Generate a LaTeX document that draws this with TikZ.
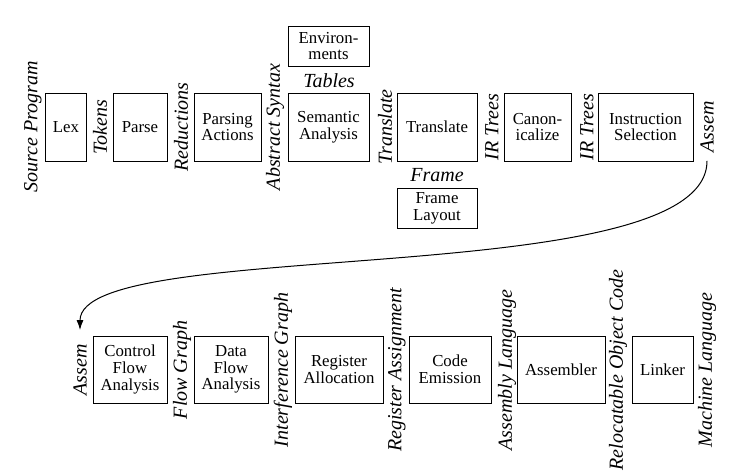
\documentclass[tikz,border=0pt]{standalone}
\usepackage{fontspec}
\setmainfont{Liberation Serif}
\usetikzlibrary{arrows.meta}

\tikzset{
  phase/.style={draw, line width=0.5pt, inner sep=0pt, align=center,
    minimum height=34pt, font=\fontsize{8.4}{8.4}\selectfont},
  side/.style={phase, minimum height=20pt},
  lbl/.style={inner sep=1pt, font=\fontsize{10}{10}\selectfont\itshape},
  vlbl/.style={lbl, rotate=90}
}

\begin{document}
\begin{tikzpicture}[x=0.5pt,y=-0.5pt]
    \useasboundingbox (0,0) rectangle (751,473);
    % front end
    \node[vlbl] (src) at (33,127) {Source Program};
    \node[phase, minimum width=20.5pt] (lex) at (66,127) {Lex};
    \node[vlbl] (tok) at (100,127) {Tokens};
    \node[phase, minimum width=27pt] (parse) at (140,127) {Parse};
    \node[vlbl] (red) at (181,127) {Reductions};
    \node[phase, minimum width=33.5pt] (act) at (227.5,127) {Parsing\\Actions};
    \node[vlbl] (absyn) at (275,127) {Abstract Syntax};
    \node[phase, minimum width=40.5pt] (semant) at (328.5,127) {Semantic\\Analysis};
    \node[side, minimum width=40.5pt] (env) at (328.5,46) {Environ-\\ments};
    \node[lbl] (tab) at (329,81) {Tables};
    \node[vlbl] (trl) at (385,127) {Translate};
    \node[phase, minimum width=40pt] (trans) at (437,127) {Translate};
    \node[lbl] (frm) at (437,175) {Frame};
    \node[side, minimum width=40pt] (layout) at (437,208) {Frame\\Layout};
    \node[vlbl] (ira) at (492,127) {IR Trees};
    \node[phase, minimum width=33.5pt] (canon) at (537.5,127) {Canon-\\icalize};
    \node[vlbl] (irb) at (587,127) {IR Trees};
    \node[phase, minimum width=47.5pt] (isel) at (645.5,127) {Instruction\\Selection};
    \node[vlbl] (asma) at (707,127) {Assem};

    % back end
    \node[vlbl] (asmb) at (80,370) {Assem};
    \node[phase, minimum width=37pt, minimum height=33.5pt] (cfa) at (130,369.5) {Control\\Flow\\Analysis};
    \node[vlbl] (fg) at (182,370) {Flow Graph};
    \node[phase, minimum width=37pt, minimum height=33.5pt] (dfa) at (231,369.5) {Data\\Flow\\Analysis};
    \node[vlbl] (ig) at (283,370) {Interference Graph};
    \node[phase, minimum width=44pt, minimum height=33.5pt] (ralloc) at (339,369.5) {Register\\Allocation};
    \node[vlbl] (rasg) at (397,370) {Register Assignment};
    \node[phase, minimum width=41pt, minimum height=33.5pt] (emit) at (450,369.5) {Code\\Emission};
    \node[vlbl] (asml) at (507,370) {Assembly Language};
    \node[phase, minimum width=44pt, minimum height=33.5pt] (asmr) at (561,369.5) {Assembler};
    \node[vlbl] (reloc) at (618,370) {Relocatable Object Code};
    \node[phase, minimum width=30.5pt, minimum height=33.5pt] (link) at (662.5,369.5) {Linker};
    \node[vlbl] (mach) at (707,370) {Machine Language};

    \draw[-{Latex[length=5pt,width=3.5pt]}, line width=0.5pt, shorten <=3pt, shorten >=6pt]
      (asma.west) .. controls +(0,138) and +(0,-107) .. (asmb.east);
\end{tikzpicture}
\end{document}
